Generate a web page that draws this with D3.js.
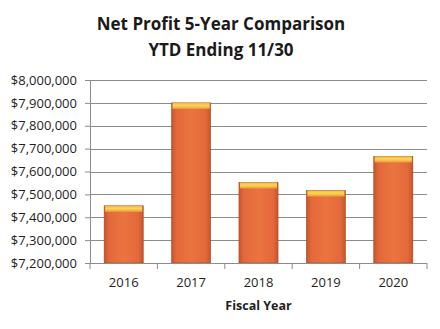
<!DOCTYPE html>
<html>
<head>
<meta charset="utf-8">
<script src="https://cdn.jsdelivr.net/npm/d3@7"></script>
<style>
  body { margin: 0; background: #fff; }
  svg { display: block; }
</style>
</head>
<body>
<svg id="chart" width="440" height="329"></svg>
<script>
// chart data
const years = ['2016', '2017', '2018', '2019', '2020']
const netProfit = [7450000, 7900000, 7552000, 7517000, 7666000]
const yTicks = [7200000, 7300000, 7400000, 7500000, 7600000, 7700000, 7800000, 7900000, 8000000]
const titleLines = ['Net Profit 5-Year Comparison', 'YTD Ending 11/30']

const margin = { top: 80, right: 13, bottom: 66, left: 90 }
const width = 440 - margin.left - margin.right
const height = 329 - margin.top - margin.bottom

const svg = d3.select('#chart')
const font = 'Open Sans, Lato, sans-serif'

// gradients for the bevelled bars
const defs = svg.append('defs')
const body = defs.append('linearGradient').attr('id', 'barBody')
  .attr('x1', 0).attr('x2', 1).attr('y1', 0).attr('y2', 0)
body.append('stop').attr('offset', '0%').attr('stop-color', '#c4552a')
body.append('stop').attr('offset', '12%').attr('stop-color', '#e3683a')
body.append('stop').attr('offset', '50%').attr('stop-color', '#ea7540')
body.append('stop').attr('offset', '88%').attr('stop-color', '#e3683a')
body.append('stop').attr('offset', '100%').attr('stop-color', '#c4552a')

const cap = defs.append('linearGradient').attr('id', 'barCap')
  .attr('x1', 0).attr('x2', 0).attr('y1', 0).attr('y2', 1)
cap.append('stop').attr('offset', '0%').attr('stop-color', '#f4b444')
cap.append('stop').attr('offset', '45%').attr('stop-color', '#fad855')
cap.append('stop').attr('offset', '100%').attr('stop-color', '#ef9a40')

const g = svg.append('g').attr('transform', `translate(${margin.left},${margin.top})`)

const x = d3.scaleBand().domain(years).range([0, width]).paddingInner(0.42).paddingOuter(0.21)
const y = d3.scaleLinear().domain([7200000, 8000000]).range([height, 0])

// gridlines
g.append('g')
  .selectAll('line')
  .data(yTicks)
  .join('line')
  .attr('x1', 0)
  .attr('x2', width)
  .attr('y1', d => Math.round(y(d)) + 0.5)
  .attr('y2', d => Math.round(y(d)) + 0.5)
  .attr('stroke', '#8c8c8c')
  .attr('stroke-width', 1.2)

// y axis
const yAxis = g.append('g')
  .call(d3.axisLeft(y).tickValues(yTicks).tickSize(5).tickPadding(8)
    .tickFormat(d => '$' + d3.format(',')(d)))
yAxis.select('.domain').attr('stroke', '#8c8c8c')
yAxis.selectAll('.tick line').attr('stroke', '#8c8c8c')
yAxis.selectAll('text')
  .attr('font-family', font)
  .attr('font-size', 13)
  .attr('fill', '#1e1e1e')

// bars
const bars = g.append('g')
  .selectAll('g')
  .data(years.map((yr, i) => ({ yr, v: netProfit[i] })))
  .join('g')

bars.append('rect')
  .attr('x', d => x(d.yr))
  .attr('y', d => y(d.v))
  .attr('width', x.bandwidth())
  .attr('height', d => height - y(d.v))
  .attr('fill', 'url(#barBody)')
  .attr('stroke', '#a84a24')
  .attr('stroke-width', 0.6)

bars.append('rect')
  .attr('x', d => x(d.yr) + 1)
  .attr('y', d => y(d.v))
  .attr('width', x.bandwidth() - 2)
  .attr('height', 6)
  .attr('fill', 'url(#barCap)')

// x axis with ticks between categories
const xAxis = g.append('g').attr('transform', `translate(0,${height})`)
xAxis.append('line')
  .attr('x1', 0).attr('x2', width)
  .attr('y1', 0.5).attr('y2', 0.5)
  .attr('stroke', '#8c8c8c')
  .attr('stroke-width', 1.2)
xAxis.selectAll('.sep')
  .data(d3.range(years.length + 1))
  .join('line')
  .attr('class', 'sep')
  .attr('x1', i => i * width / years.length)
  .attr('x2', i => i * width / years.length)
  .attr('y1', 0)
  .attr('y2', 6)
  .attr('stroke', '#8c8c8c')
xAxis.selectAll('.lbl')
  .data(years)
  .join('text')
  .attr('class', 'lbl')
  .attr('x', d => x(d) + x.bandwidth() / 2)
  .attr('y', 24)
  .attr('text-anchor', 'middle')
  .attr('font-family', font)
  .attr('font-size', 13)
  .attr('fill', '#1e1e1e')
  .text(d => d)

svg.append('text')
  .attr('x', margin.left + width / 2)
  .attr('y', 310)
  .attr('text-anchor', 'middle')
  .attr('font-family', font)
  .attr('font-weight', 'bold')
  .attr('font-size', 12.5)
  .attr('fill', '#1e1e1e')
  .text('Fiscal Year')

// title
svg.append('g')
  .selectAll('text')
  .data(titleLines)
  .join('text')
  .attr('x', 221)
  .attr('y', (d, i) => 30 + i * 26)
  .attr('text-anchor', 'middle')
  .attr('font-family', font)
  .attr('font-weight', 'bold')
  .attr('font-size', 17)
  .attr('fill', '#1a1a1a')
  .text(d => d)
</script>
</body>
</html>
